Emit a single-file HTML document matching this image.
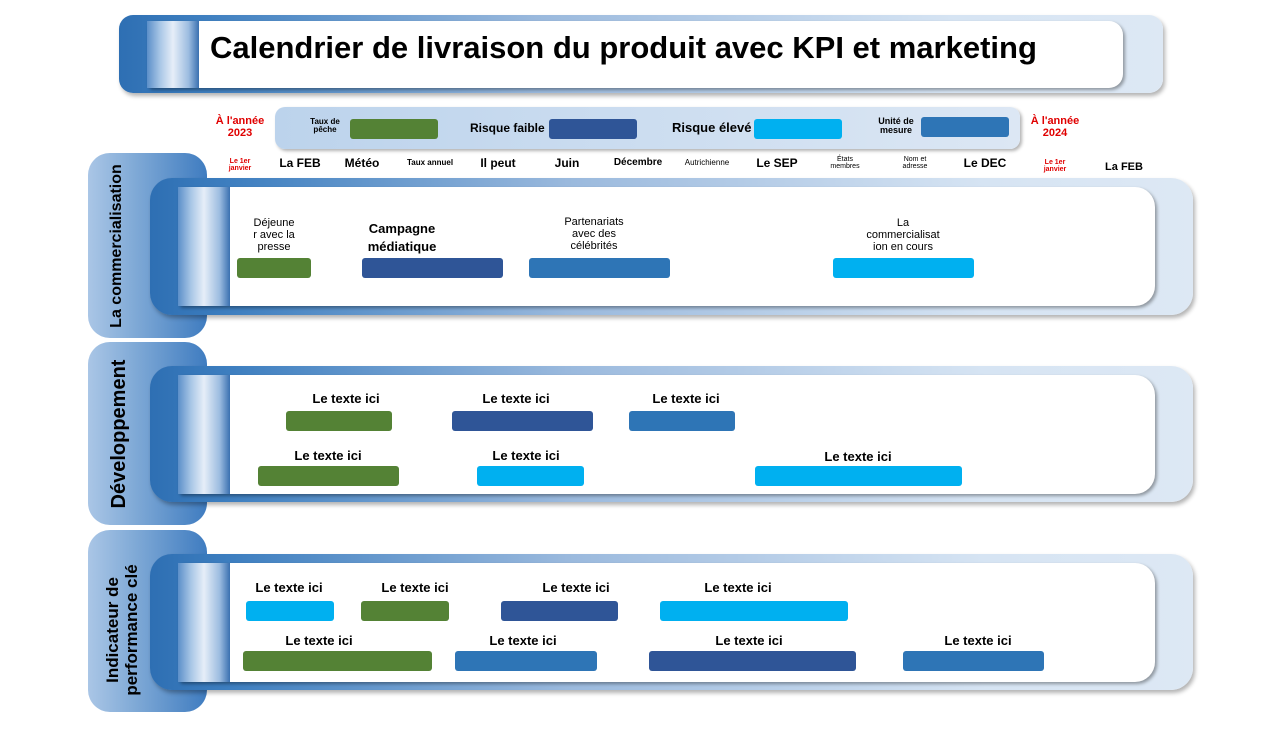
<!DOCTYPE html>
<html><head><meta charset="utf-8"><style>
body{margin:0;width:1280px;height:720px;background:#fff;position:relative;overflow:hidden;font-family:"Liberation Sans",sans-serif;}
div{position:absolute;box-sizing:border-box}
.frame{background:linear-gradient(90deg,#2e6fb3 0%,#3e7fc0 8%,#9ab9dd 40%,#d6e4f3 80%,#dde8f4 100%);border-radius:22px;box-shadow:2px 3px 4px rgba(0,0,0,.3)}
.inner{background:#fff;border-radius:20px;box-shadow:inset 0 0 0 0 #000, 2px 2px 3px rgba(0,0,0,.35)}
.strip{background:linear-gradient(90deg,#5b8fc9 0%,#a8c6e6 25%,#e6eef8 50%,#9cbce0 80%,#3a70b0 100%)}
.tab{background:linear-gradient(90deg,#aac6e6 0%,#7fa9d6 40%,#3f7cc0 100%);border-radius:22px}
.vt{transform:rotate(-90deg);transform-origin:center;font-weight:bold;color:#000;text-align:center;white-space:nowrap;line-height:1.1}
.b{border-radius:3px;height:20px}
.g{background:#548235}.d{background:#2f5597}.m{background:#2e75b6}.c{background:#00b0f0}
.t{font-weight:bold;font-size:13px;text-align:center;color:#000;white-space:nowrap;transform:translateX(-50%)}
.h{font-size:12px;font-weight:bold;text-align:center;transform:translateX(-50%);white-space:nowrap;top:156px}
.s{font-size:7px;text-align:center;transform:translateX(-50%);line-height:1.05}
.r{color:#e00000}
</style></head><body>
<!-- title -->
<div class="frame" style="left:119px;top:15px;width:1044px;height:78px;border-radius:14px"></div>
<div class="inner" style="left:147px;top:21px;width:976px;height:67px;border-radius:4px 14px 14px 4px"></div>
<div class="strip" style="left:147px;top:21px;width:52px;height:67px"></div>
<div style="left:210px;top:30px;font-size:31px;font-weight:bold;color:#000;white-space:nowrap">Calendrier de livraison du produit avec KPI et marketing</div>
<!-- legend -->
<div style="left:275px;top:107px;width:745px;height:42px;border-radius:10px;background:linear-gradient(90deg,#bcd3ec,#dce7f4);box-shadow:2px 2px 3px rgba(0,0,0,.3)"></div>
<div class="s" style="left:325px;top:118px;font-size:8px;font-weight:bold">Taux de<br>pêche</div>
<div class="b g" style="left:350px;top:119px;width:88px"></div>
<div style="left:470px;top:121px;font-size:12px;font-weight:bold">Risque faible</div>
<div class="b d" style="left:549px;top:119px;width:88px"></div>
<div style="left:672px;top:120px;font-size:13px;font-weight:bold">Risque élevé</div>
<div class="b c" style="left:754px;top:119px;width:88px"></div>
<div class="s" style="left:896px;top:117px;font-size:9px;font-weight:bold">Unité de<br>mesure</div>
<div class="b m" style="left:921px;top:117px;width:88px"></div>
<div class="s r" style="left:240px;top:116px;font-size:11px;font-weight:bold">À l'année<br>2023</div>
<div class="s r" style="left:1055px;top:116px;font-size:11px;font-weight:bold">À l'année<br>2024</div>
<!-- month headers -->
<div class="s r" style="left:240px;top:158px;font-weight:bold">Le 1er<br>janvier</div>
<div class="h" style="left:300px">La FEB</div>
<div class="h" style="left:362px">Météo</div>
<div class="s" style="left:430px;top:159px;font-size:8px;font-weight:bold">Taux annuel</div>
<div class="h" style="left:498px">Il peut</div>
<div class="h" style="left:567px">Juin</div>
<div class="h" style="left:638px;font-size:10px;top:157px">Décembre</div>
<div class="s" style="left:707px;top:159px;font-size:8px">Autrichienne</div>
<div class="h" style="left:777px">Le SEP</div>
<div class="s" style="left:845px;top:156px">États<br>membres</div>
<div class="s" style="left:915px;top:156px">Nom et<br>adresse</div>
<div class="h" style="left:985px">Le DEC</div>
<div class="s r" style="left:1055px;top:159px;font-weight:bold">Le 1er<br>janvier</div>
<div class="h" style="left:1124px;top:161px;font-size:11px">La FEB</div>

<!-- sections -->
<div class="tab" style="left:88px;top:153px;width:119px;height:185px"></div>
<div class="tab" style="left:88px;top:342px;width:119px;height:183px"></div>
<div class="tab" style="left:88px;top:530px;width:119px;height:182px"></div>

<div class="frame" style="left:150px;top:178px;width:1043px;height:137px"></div>
<div class="inner" style="left:178px;top:187px;width:977px;height:119px;border-radius:3px 20px 20px 3px"></div>
<div class="strip" style="left:178px;top:187px;width:52px;height:119px"></div>
<div class="frame" style="left:150px;top:366px;width:1043px;height:136px"></div>
<div class="inner" style="left:178px;top:375px;width:977px;height:119px;border-radius:3px 20px 20px 3px"></div>
<div class="strip" style="left:178px;top:375px;width:52px;height:119px"></div>
<div class="frame" style="left:150px;top:554px;width:1043px;height:136px"></div>
<div class="inner" style="left:178px;top:563px;width:977px;height:119px;border-radius:3px 20px 20px 3px"></div>
<div class="strip" style="left:178px;top:563px;width:52px;height:119px"></div>

<div class="vt" style="left:18px;top:236px;width:200px;height:20px;font-size:16px">La commercialisation</div>
<div class="vt" style="left:20px;top:422px;width:200px;height:24px;font-size:20px">Développement</div>
<div class="vt" style="left:24px;top:610px;width:200px;height:40px;font-size:17px">Indicateur de<br>performance clé</div>

<!-- S1 -->
<div class="t" style="left:274px;top:217px;font-size:11px;font-weight:normal;line-height:1.1;color:#000">Déjeune<br>r avec la<br>presse</div>
<div class="b g" style="left:237px;top:258px;width:74px"></div>
<div class="t" style="left:402px;top:220px;line-height:1.4">Campagne<br>médiatique</div>
<div class="b d" style="left:362px;top:258px;width:141px"></div>
<div class="t" style="left:594px;top:216px;font-size:11px;font-weight:normal;line-height:1.1">Partenariats<br>avec des<br>célébrités</div>
<div class="b m" style="left:529px;top:258px;width:141px"></div>
<div class="t" style="left:903px;top:217px;font-size:11px;font-weight:normal;line-height:1.1">La<br>commercialisat<br>ion en cours</div>
<div class="b c" style="left:833px;top:258px;width:141px"></div>
<!-- S2 -->
<div class="t" style="left:346px;top:391px">Le texte ici</div>
<div class="b g" style="left:286px;top:411px;width:106px"></div>
<div class="t" style="left:516px;top:391px">Le texte ici</div>
<div class="b d" style="left:452px;top:411px;width:141px"></div>
<div class="t" style="left:686px;top:391px">Le texte ici</div>
<div class="b m" style="left:629px;top:411px;width:106px"></div>
<div class="t" style="left:328px;top:448px">Le texte ici</div>
<div class="b g" style="left:258px;top:466px;width:141px"></div>
<div class="t" style="left:526px;top:448px">Le texte ici</div>
<div class="b c" style="left:477px;top:466px;width:107px"></div>
<div class="t" style="left:858px;top:449px">Le texte ici</div>
<div class="b c" style="left:755px;top:466px;width:207px"></div>
<!-- S3 -->
<div class="t" style="left:289px;top:580px">Le texte ici</div>
<div class="b c" style="left:246px;top:601px;width:88px"></div>
<div class="t" style="left:415px;top:580px">Le texte ici</div>
<div class="b g" style="left:361px;top:601px;width:88px"></div>
<div class="t" style="left:576px;top:580px">Le texte ici</div>
<div class="b d" style="left:501px;top:601px;width:117px"></div>
<div class="t" style="left:738px;top:580px">Le texte ici</div>
<div class="b c" style="left:660px;top:601px;width:188px"></div>
<div class="t" style="left:319px;top:633px">Le texte ici</div>
<div class="b g" style="left:243px;top:651px;width:189px"></div>
<div class="t" style="left:523px;top:633px">Le texte ici</div>
<div class="b m" style="left:455px;top:651px;width:142px"></div>
<div class="t" style="left:749px;top:633px">Le texte ici</div>
<div class="b d" style="left:649px;top:651px;width:207px"></div>
<div class="t" style="left:978px;top:633px">Le texte ici</div>
<div class="b m" style="left:903px;top:651px;width:141px"></div>
</body></html>
